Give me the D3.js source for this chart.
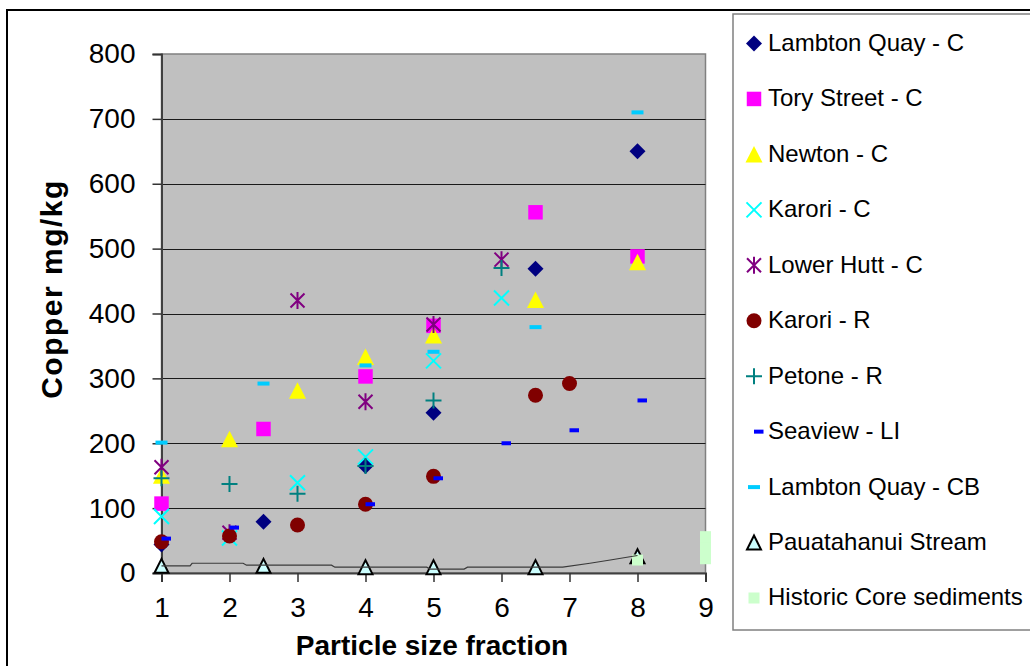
<!DOCTYPE html>
<html>
<head>
<meta charset="utf-8">
<script src="https://cdn.jsdelivr.net/npm/d3@7"></script>
<style>
  html, body { margin: 0; padding: 0; background: #fff; }
  svg { display: block; font-family: "Liberation Sans", Arial, sans-serif; }
</style>
</head>
<body>
<svg id="chart" width="1030" height="666"></svg>
<script>
// ---------------- DATA ----------------
const yTicks = [0, 100, 200, 300, 400, 500, 600, 700, 800];
const xTicks = [1, 2, 3, 4, 5, 6, 7, 8, 9];

const lambtonQuayC_x = [1, 2.5, 4, 5, 6.5, 8];
const lambtonQuayC_y = [44, 79, 165, 247, 469, 650];

const toryStreetC_x = [1, 2.5, 4, 5, 6.5, 8];
const toryStreetC_y = [107, 222, 303, 381, 556, 488];

const newtonC_x = [1, 2, 3, 4, 5, 6.5, 8];
const newtonC_y = [150, 206, 281, 333, 366, 421, 479];

const karoriC_x = [1, 2, 3, 4, 5, 6];
const karoriC_y = [87, 54, 139, 179, 327, 424];

const lowerHuttC_x = [1, 2, 3, 4, 5, 6];
const lowerHuttC_y = [163, 62, 420, 264, 383, 483];

const karoriR_x = [1, 2, 3, 4, 5, 6.5, 7];
const karoriR_y = [48, 57, 74, 106, 149, 274, 292];

const petoneR_x = [1, 2, 3, 4, 5, 6];
const petoneR_y = [146, 137, 122, 165, 266, 470];

const seaviewLI_x = [1, 2, 4, 5, 6, 7, 8];
const seaviewLI_y = [53, 70, 106, 146, 200, 220, 266];

const lambtonQuayCB_x = [1, 2.5, 4, 5, 6.5, 8];
const lambtonQuayCB_y = [201, 292, 320, 341, 379, 710];

const pauatahanui_x = [1, 2.5, 4, 5, 6.5, 8];
const pauatahanui_y = [11, 11, 9, 9, 9, 26];

const historic_x = [8, 9, 9, 9, 9, 9];
const historic_y = [20, 22, 30, 39, 47, 56];

// thin unlabelled line near the bottom
const streamLine_x = [1, 1.42, 1.45, 2.2, 2.25, 3.5, 3.55, 4.9, 4.95, 5.45, 5.5, 6.9, 7.3, 7.6, 8];
const streamLine_y = [11, 11, 15, 15, 12, 12, 9, 9, 6, 6, 9, 9, 15, 20, 27];

const seriesNames = [
  "Lambton Quay - C", "Tory Street - C", "Newton - C", "Karori - C",
  "Lower Hutt - C", "Karori - R", "Petone - R", "Seaview - LI",
  "Lambton Quay - CB", "Pauatahanui Stream", "Historic Core sediments"
];
const seriesX = [lambtonQuayC_x, toryStreetC_x, newtonC_x, karoriC_x, lowerHuttC_x,
  karoriR_x, petoneR_x, seaviewLI_x, lambtonQuayCB_x, pauatahanui_x, historic_x];
const seriesY = [lambtonQuayC_y, toryStreetC_y, newtonC_y, karoriC_y, lowerHuttC_y,
  karoriR_y, petoneR_y, seaviewLI_y, lambtonQuayCB_y, pauatahanui_y, historic_y];
const markerTypes = ["diamond", "square", "triangle", "x", "asterisk", "circle",
  "plus", "dashOffset", "dash", "triOutline", "smallSquare"];
const colors = ["#000080", "#FF00FF", "#FFFF00", "#00FFFF", "#800080", "#800000",
  "#008080", "#0000FF", "#00CCFF", "#CCFFFF", "#CCFFCC"];

// ---------------- LAYOUT ----------------
const svg = d3.select("#chart");
const plot = { left: 161.5, right: 705.5, top: 54, bottom: 573 };
const x = d3.scaleLinear().domain([1, 9]).range([plot.left, plot.right]);
const y = d3.scaleLinear().domain([0, 800]).range([plot.bottom, plot.top]);

svg.append("rect").attr("width", 1030).attr("height", 666).attr("fill", "#fff");

// outer chart border (cut off at right/bottom)
svg.append("rect").attr("x", 7).attr("y", 10).attr("width", 1100).attr("height", 700)
  .attr("fill", "none").attr("stroke", "#000").attr("stroke-width", 2);

// plot background
svg.append("rect")
  .attr("x", plot.left).attr("y", plot.top)
  .attr("width", plot.right - plot.left).attr("height", plot.bottom - plot.top)
  .attr("fill", "#C0C0C0").attr("stroke", "#808080").attr("stroke-width", 1.5);

// gridlines
svg.append("g").selectAll("line").data(yTicks.filter(d => d > 0 && d < 800)).join("line")
  .attr("x1", plot.left).attr("x2", plot.right)
  .attr("y1", d => Math.round(y(d)) + 0.5).attr("y2", d => Math.round(y(d)) + 0.5)
  .attr("stroke", "#1a1a1a").attr("stroke-width", 1);

// axes
const yAxis = svg.append("g").attr("transform", `translate(${plot.left},0)`)
  .call(d3.axisLeft(y).tickValues(yTicks).tickSize(9).tickPadding(17).tickFormat(d3.format("d")));
const xAxis = svg.append("g").attr("transform", `translate(0,${plot.bottom})`)
  .call(d3.axisBottom(x).tickValues(xTicks).tickSize(9).tickPadding(15).tickFormat(d3.format("d")));
[yAxis, xAxis].forEach(a => {
  a.selectAll("text").attr("font-size", 28).attr("fill", "#000")
    .attr("font-family", '"Liberation Sans", Arial, sans-serif');
  a.selectAll("line").attr("stroke", "#333").attr("stroke-width", 1.5);
  a.select(".domain").attr("stroke", "#404040").attr("stroke-width", 2);
});

// axis titles
svg.append("text").attr("transform", "translate(62,289) rotate(-90)")
  .attr("text-anchor", "middle").attr("font-size", 30).attr("font-weight", "bold")
  .attr("letter-spacing", 1.5)
  .text("Copper mg/kg");
svg.append("text").attr("x", 432).attr("y", 655)
  .attr("text-anchor", "middle").attr("font-size", 28).attr("font-weight", "bold")
  .text("Particle size fraction");

// ---------------- MARKERS ----------------
function drawMarker(g, type, color) {
  switch (type) {
    case "diamond":
      g.append("path").attr("d", d3.symbol(d3.symbolSquare, 128)()).attr("transform", "rotate(45)")
        .attr("fill", color);
      break;
    case "square":
      g.append("path").attr("d", d3.symbol(d3.symbolSquare, 210)()).attr("fill", color);
      break;
    case "triangle":
      g.append("path").attr("d", "M0,-8.5L8.5,8L-8.5,8Z").attr("fill", color);
      break;
    case "circle":
      g.append("circle").attr("r", 7.5).attr("fill", color);
      break;
    case "x":
      g.append("path").attr("d", "M-7.5,-7.5L7.5,7.5M-7.5,7.5L7.5,-7.5")
        .attr("stroke", color).attr("stroke-width", 2).attr("fill", "none");
      break;
    case "asterisk":
      g.append("path").attr("d", "M-7,-7L7,7M-7,7L7,-7M0,-8.5L0,8.5")
        .attr("stroke", color).attr("stroke-width", 2).attr("fill", "none");
      break;
    case "plus":
      g.append("path").attr("d", "M-8,0L8,0M0,-8L0,8")
        .attr("stroke", color).attr("stroke-width", 2).attr("fill", "none");
      break;
    case "dashOffset":
      g.append("rect").attr("x", 0).attr("y", -2).attr("width", 9.5).attr("height", 4).attr("fill", color);
      break;
    case "dash":
      g.append("rect").attr("x", -6).attr("y", -2).attr("width", 12).attr("height", 4).attr("fill", color);
      break;
    case "triOutline":
      g.append("path").attr("d", "M0,-7L7,7L-7,7Z").attr("fill", color)
        .attr("stroke", "#000").attr("stroke-width", 2).attr("stroke-linejoin", "miter");
      break;
    case "smallSquare":
      g.append("rect").attr("x", -5.5).attr("y", -5.5).attr("width", 11).attr("height", 11).attr("fill", color);
      break;
  }
}

const marksLayer = svg.append("g");
seriesNames.forEach((name, i) => {
  const pts = seriesX[i].map((xv, j) => [xv, seriesY[i][j]]);
  const sg = marksLayer.append("g");
  pts.forEach(p => {
    const g = sg.append("g").attr("transform", `translate(${x(p[0])},${y(p[1])})`);
    drawMarker(g, markerTypes[i], colors[i]);
  });
});

// thin line near the bottom
const lineGen = d3.line().x(d => x(d[0])).y(d => y(d[1]));
svg.append("path")
  .attr("d", lineGen(streamLine_x.map((xv, j) => [xv, streamLine_y[j]])))
  .attr("fill", "none").attr("stroke", "#3a3a3a").attr("stroke-width", 1.2);

// ---------------- LEGEND ----------------
const legend = svg.append("g");
legend.append("rect").attr("x", 733).attr("y", 14).attr("width", 400).attr("height", 616)
  .attr("fill", "#fff").attr("stroke", "#808080").attr("stroke-width", 1.5);
seriesNames.forEach((name, i) => {
  const cy = 42.5 + i * 55.45;
  const g = legend.append("g").attr("transform", `translate(754,${cy + 1})`);
  drawMarker(g, markerTypes[i], colors[i]);
  legend.append("text").attr("x", 768).attr("y", cy).attr("dy", "0.35em")
    .attr("font-size", 24).attr("fill", "#000").text(name);
});
</script>
</body>
</html>
